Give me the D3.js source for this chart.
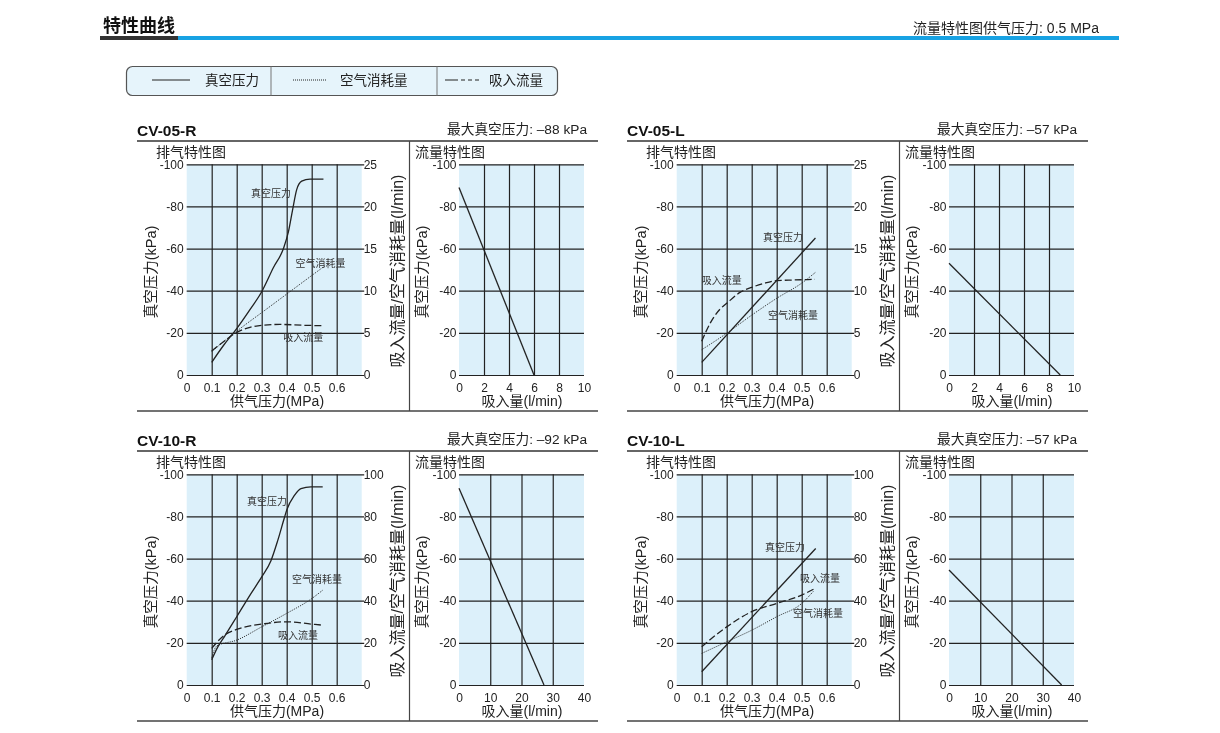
<!DOCTYPE html>
<html>
<head>
<meta charset="utf-8">
<script src="https://cdn.jsdelivr.net/npm/d3@7"></script>
<style>
  body { margin: 0; background: #fff; }
  svg { display: block; font-family: "Liberation Sans", "Noto Sans CJK SC", sans-serif; will-change: transform; }
</style>
</head>
<body>
<svg id="chart" width="1220" height="733"></svg>
<script>
// ticks
const pressureTicks = [0, 0.1, 0.2, 0.3, 0.4, 0.5, 0.6];
const vacuumTicks = [0, -20, -40, -60, -80, -100];
const flowTicks05 = [0, 5, 10, 15, 20, 25];
const flowTicks10 = [0, 20, 40, 60, 80, 100];
const suctionTicks05 = [0, 2, 4, 6, 8, 10];
const suctionTicks10 = [0, 10, 20, 30, 40];

const models = ["CV-05-R", "CV-05-L", "CV-10-R", "CV-10-L"];
const maxVacuum = ["–88 kPa", "–57 kPa", "–92 kPa", "–57 kPa"];

// 排气特性  [供气压力 MPa, 真空压力 kPa] / [供气压力 MPa, l/min]
const vacuum05R = [[0.1, -6], [0.147, -14], [0.2, -22], [0.253, -31], [0.3, -39.5], [0.347, -51], [0.387, -60], [0.407, -68], [0.423, -78], [0.44, -88], [0.46, -92], [0.493, -93], [0.547, -93]];
const air05R = [[0.1, 2.8], [0.2, 5.2], [0.3, 7.4], [0.4, 9.6], [0.5, 11.8], [0.555, 13]];
const suction05R = [[0.1, 2.85], [0.147, 3.95], [0.2, 5.05], [0.253, 5.65], [0.3, 5.9], [0.373, 6.0], [0.467, 5.9], [0.547, 5.85]];

const vacuum05L = [[0.1, -6], [0.555, -65]];
const air05L = [[0.1, 3.0], [0.2, 4.95], [0.3, 7.1], [0.4, 9.1], [0.5, 10.9], [0.556, 12.2]];
const suction05L = [[0.1, 4.0], [0.133, 6.1], [0.173, 7.8], [0.2, 8.5], [0.253, 9.8], [0.3, 10.4], [0.347, 10.85], [0.4, 11.2], [0.467, 11.27], [0.553, 11.35]];

const vacuum10R = [[0.1, -12], [0.124, -18], [0.151, -23], [0.2, -32.4], [0.257, -43.4], [0.3, -51.3], [0.337, -59], [0.364, -68.5], [0.391, -79.5], [0.4, -83], [0.431, -90], [0.457, -93.2], [0.497, -94], [0.544, -94]];
const air10R = [[0.1, 13], [0.12, 18.5], [0.2, 21.3], [0.3, 27.6], [0.4, 34], [0.5, 41], [0.544, 45]];
const suction10R = [[0.1, 17.4], [0.151, 23.7], [0.2, 26.4], [0.3, 28.9], [0.4, 30], [0.5, 28.9], [0.544, 28.4]];

const vacuum10L = [[0.1, -6.3], [0.556, -64.8]];
const air10L = [[0.1, 15], [0.2, 20.5], [0.3, 26], [0.4, 32.4], [0.5, 38.7], [0.547, 44.5]];
const suction10L = [[0.1, 18.2], [0.2, 27.6], [0.3, 34.8], [0.4, 38.7], [0.5, 42.7], [0.553, 45.8]];

// 流量特性  [吸入量 l/min, 真空压力 kPa]
const flow05R = [[0, -89], [6, 0]];
const flow05L = [[0, -53], [8.9, 0]];
const flow10R = [[0, -93.4], [27.2, 0]];
const flow10L = [[0, -54.6], [36.05, 0]];

const panels = [
  { ox: 0, oy: 0, vac: vacuum05R, air: air05R, suc: suction05R, flow: flow05R, flowTicks: flowTicks05, sucTicks: suctionTicks05,
    labels: [["真空压力", 0.337, -86], ["空气消耗量", 0.535, -53], ["吸入流量", 0.466, -18]] },
  { ox: 490, oy: 0, vac: vacuum05L, air: air05L, suc: suction05L, flow: flow05L, flowTicks: flowTicks05, sucTicks: suctionTicks05,
    labels: [["吸入流量", 0.18, -45], ["真空压力", 0.425, -65.5], ["空气消耗量", 0.465, -28.5]] },
  { ox: 0, oy: 310, vac: vacuum10R, air: air10R, suc: suction10R, flow: flow10R, flowTicks: flowTicks10, sucTicks: suctionTicks10,
    labels: [["真空压力", 0.321, -87], ["空气消耗量", 0.521, -50], ["吸入流量", 0.445, -23.7]] },
  { ox: 490, oy: 310, vac: vacuum10L, air: air10L, suc: suction10L, flow: flow10L, flowTicks: flowTicks10, sucTicks: suctionTicks10,
    labels: [["真空压力", 0.433, -65.5], ["吸入流量", 0.573, -50.8], ["空气消耗量", 0.565, -34.2]] }
];

const svg = d3.select("#chart");
const ink = "#222";
const plotFill = "#dcf0fa";
const num = d => String(d);   // plain hyphen, as in the original

// header
svg.append("text").attr("x", 103).attr("y", 32)
  .attr("font-size", 18).attr("font-weight", "bold").attr("fill", "#111")
  .text("特性曲线");
svg.append("rect").attr("x", 100).attr("y", 36).attr("width", 78).attr("height", 4).attr("fill", "#333");
svg.append("rect").attr("x", 178).attr("y", 36).attr("width", 941).attr("height", 4).attr("fill", "#18a2e3");
svg.append("text").attr("x", 1099).attr("y", 33).attr("text-anchor", "end")
  .attr("font-size", 14).attr("fill", "#222")
  .text("流量特性图供气压力: 0.5 MPa");

// legend
const lg = svg.append("g");
lg.append("rect").attr("x", 126.5).attr("y", 66.5).attr("width", 431).attr("height", 29).attr("rx", 6)
  .attr("fill", "#e6f4fb").attr("stroke", "#555").attr("stroke-width", 1.2);
[271, 437].forEach(x => lg.append("line").attr("x1", x).attr("x2", x).attr("y1", 66.5).attr("y2", 95.5)
  .attr("stroke", "#777").attr("stroke-width", 1));
lg.append("line").attr("x1", 152).attr("x2", 190).attr("y1", 80).attr("y2", 80).attr("stroke", ink).attr("stroke-width", 1.2);
lg.append("line").attr("x1", 293).attr("x2", 326).attr("y1", 80).attr("y2", 80).attr("stroke", ink).attr("stroke-width", 1).attr("stroke-dasharray", "1,1");
lg.append("line").attr("x1", 445).attr("x2", 482).attr("y1", 80).attr("y2", 80).attr("stroke", ink).attr("stroke-width", 1.2).attr("stroke-dasharray", "13,3,4,3,4,3,4,30");
[["真空压力", 205], ["空气消耗量", 340], ["吸入流量", 489]].forEach(([t, x]) =>
  lg.append("text").attr("x", x).attr("y", 85).attr("font-size", 13.5).attr("fill", "#222").text(t));

function styleLabels(a) {
  a.select(".domain").remove();
  a.selectAll("text").attr("font-size", 12).attr("fill", ink).attr("font-family", null);
}
function styleGrid(a) {
  a.select(".domain").remove();
  a.selectAll("line").attr("stroke", ink).attr("stroke-width", 1.2);
}

function drawPanel(p, i) {
  const g = svg.append("g").attr("transform", `translate(${p.ox},${p.oy})`);

  g.append("text").attr("x", 137).attr("y", 135.5).attr("font-size", 15.5).attr("font-weight", "bold").attr("fill", "#111").text(models[i]);
  g.append("text").attr("x", 587).attr("y", 134).attr("text-anchor", "end").attr("font-size", 13.7).attr("fill", "#222").text("最大真空压力: " + maxVacuum[i]);
  g.append("line").attr("x1", 137).attr("x2", 598).attr("y1", 141).attr("y2", 141).attr("stroke", "#333").attr("stroke-width", 1.5);
  g.append("line").attr("x1", 137).attr("x2", 598).attr("y1", 411).attr("y2", 411).attr("stroke", "#444").attr("stroke-width", 1.5);
  g.append("line").attr("x1", 409.5).attr("x2", 409.5).attr("y1", 141).attr("y2", 411).attr("stroke", "#444").attr("stroke-width", 1.2);
  g.append("text").attr("x", 156).attr("y", 157).attr("font-size", 14).attr("fill", "#222").text("排气特性图");
  g.append("text").attr("x", 415).attr("y", 157).attr("font-size", 14).attr("fill", "#222").text("流量特性图");

  const top = 164.3, bottom = 375;
  const y = d3.scaleLinear().domain([0, -100]).range([bottom, top]);

  // ---- 排气特性图 ----
  const x = d3.scaleLinear().domain([0, 0.7]).range([186.7, 361.7]);
  const fmax = d3.max(p.flowTicks);
  const y2 = d3.scaleLinear().domain([0, fmax]).range([bottom, top]);

  g.append("rect").attr("x", x(0)).attr("y", top).attr("width", x(0.7) - x(0)).attr("height", bottom - top).attr("fill", plotFill);

  g.append("g").attr("transform", `translate(0,${bottom})`)
    .call(d3.axisBottom(x).tickValues(pressureTicks.filter(d => d > 0)).tickSize(-(bottom - top)).tickFormat(""))
    .call(styleGrid);
  g.append("g").attr("transform", `translate(${x(0.7) + 2.5},0)`)
    .call(d3.axisLeft(y).tickValues(vacuumTicks).tickSize(x(0.7) + 2.5 - x(0)).tickFormat(""))
    .call(styleGrid);

  // tick labels
  g.append("g").attr("transform", `translate(${x(0) - 3},0)`)
    .call(d3.axisLeft(y).tickValues(vacuumTicks).tickSize(0).tickPadding(0).tickFormat(num))
    .call(styleLabels);
  g.append("g").attr("transform", `translate(${x(0.7) + 2},0)`)
    .call(d3.axisRight(y2).tickValues(p.flowTicks).tickSize(0).tickPadding(0).tickFormat(num))
    .call(styleLabels);
  g.append("g").attr("transform", `translate(0,${bottom + 8})`)
    .call(d3.axisBottom(x).tickValues(pressureTicks).tickSize(0).tickPadding(0).tickFormat(d => d === 0 ? "0" : d3.format(".1f")(d)))
    .call(styleLabels);

  g.append("text").attr("x", 277).attr("y", bottom + 30.5).attr("text-anchor", "middle").attr("font-size", 14).attr("fill", "#222").text("供气压力(MPa)");
  g.append("text").attr("transform", `translate(155.5,272) rotate(-90)`).attr("text-anchor", "middle").attr("font-size", 14.5).attr("fill", "#222").text("真空压力(kPa)");
  g.append("text").attr("transform", `translate(402.5,271) rotate(-90)`).attr("text-anchor", "middle").attr("font-size", 16).attr("fill", "#222").text("吸入流量/空气消耗量(l/min)");

  const lineV = d3.line().x(d => x(d[0])).y(d => y(d[1])).curve(d3.curveMonotoneX);
  const lineF = d3.line().x(d => x(d[0])).y(d => y2(d[1])).curve(d3.curveMonotoneX);
  g.append("path").attr("d", lineF(p.air)).attr("fill", "none").attr("stroke", ink).attr("stroke-width", 1).attr("stroke-dasharray", "1,1.2");
  g.append("path").attr("d", lineF(p.suc)).attr("fill", "none").attr("stroke", ink).attr("stroke-width", 1.3).attr("stroke-dasharray", "7,3");
  g.append("path").attr("d", lineV(p.vac)).attr("fill", "none").attr("stroke", ink).attr("stroke-width", 1.3);

  p.labels.forEach(([t, lx, ly]) =>
    g.append("text").attr("x", x(lx)).attr("y", y(ly)).attr("dy", "0.36em").attr("text-anchor", "middle")
      .attr("font-size", 10).attr("fill", "#333").text(t));

  // ---- 流量特性图 ----
  const smax = d3.max(p.sucTicks);
  const xs = d3.scaleLinear().domain([0, smax]).range([459, 584]);
  g.append("rect").attr("x", xs(0)).attr("y", top).attr("width", xs(smax) - xs(0)).attr("height", bottom - top).attr("fill", plotFill);
  g.append("g").attr("transform", `translate(0,${bottom})`)
    .call(d3.axisBottom(xs).tickValues(p.sucTicks.filter(d => d > 0 && d < smax)).tickSize(-(bottom - top)).tickFormat(""))
    .call(styleGrid);
  g.append("g").attr("transform", `translate(${xs(smax)},0)`)
    .call(d3.axisLeft(y).tickValues(vacuumTicks).tickSize(xs(smax) - xs(0)).tickFormat(""))
    .call(styleGrid);
  g.append("g").attr("transform", `translate(${xs(0) - 2.5},0)`)
    .call(d3.axisLeft(y).tickValues(vacuumTicks).tickSize(0).tickPadding(0).tickFormat(num))
    .call(styleLabels);
  g.append("g").attr("transform", `translate(0,${bottom + 8})`)
    .call(d3.axisBottom(xs).tickValues(p.sucTicks).tickSize(0).tickPadding(0).tickFormat(num))
    .call(styleLabels);

  g.append("text").attr("x", 522).attr("y", bottom + 30.5).attr("text-anchor", "middle").attr("font-size", 14).attr("fill", "#222").text("吸入量(l/min)");
  g.append("text").attr("transform", `translate(426.5,272) rotate(-90)`).attr("text-anchor", "middle").attr("font-size", 14.5).attr("fill", "#222").text("真空压力(kPa)");

  const lineS = d3.line().x(d => xs(d[0])).y(d => y(d[1]));
  g.append("path").attr("d", lineS(p.flow)).attr("fill", "none").attr("stroke", ink).attr("stroke-width", 1.3);
}

panels.forEach(drawPanel);
</script>
</body>
</html>
